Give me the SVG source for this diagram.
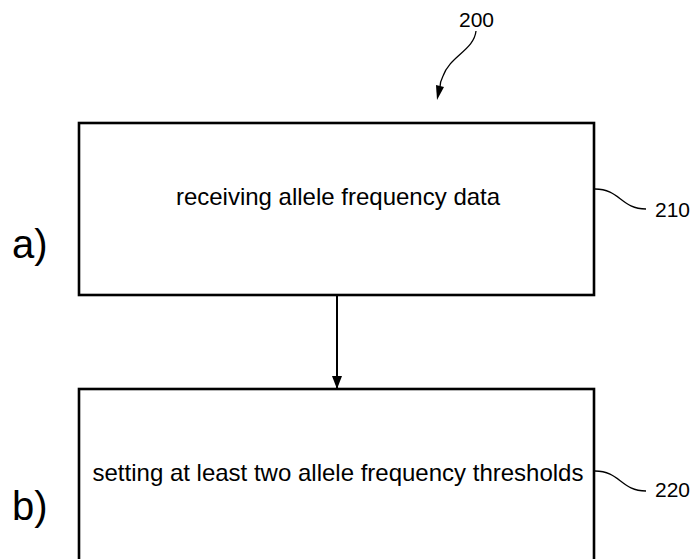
<svg xmlns="http://www.w3.org/2000/svg" width="693" height="559" viewBox="0 0 693 559">
  <style>
    .box { fill: #fff; stroke: #000; stroke-width: 2.6; }
    .lead { fill: none; stroke: #000; stroke-width: 1.3; }
    .lbl { font-family: "Liberation Sans", Arial, sans-serif; fill: #000; }
    .step { font-size: 24px; text-anchor: middle; }
    .ref { font-size: 21px; }
    .part { font-size: 40px; }
  </style>
  <defs>
    <marker id="arrow" markerWidth="13" markerHeight="10" refX="13" refY="5" orient="auto" markerUnits="userSpaceOnUse" viewBox="0 0 13 10">
      <path d="M0,0 L13,5 L0,10 Z" fill="#000"/>
    </marker>
  </defs>

  <!-- figure reference and its pointer -->
  <text class="lbl ref" x="459" y="27">200</text>
  <path class="lead" d="M476,31 C474,50 450,56 443,76 C441,80 440,84 440,87"/>
  <path d="M436,85 L444,87 L437,100 Z" fill="#000"/>

  <g id="node-210">
    <rect class="box" x="79" y="123" width="515" height="172"/>
    <text class="lbl step" x="338" y="205">receiving allele frequency data</text>
  </g>

  <g id="node-220">
    <rect class="box" x="79" y="389" width="515" height="190"/>
    <text class="lbl step" x="338" y="481">setting at least two allele frequency thresholds</text>
  </g>

  <g id="connectors">
    <line x1="337" y1="295" x2="337" y2="389" stroke="#000" stroke-width="2" marker-end="url(#arrow)"/>
    <path class="lead" d="M595,189 C620,189 621,209 646,209"/>
    <path class="lead" d="M595,471 C620,471 621,491 646,491"/>
  </g>

  <text class="lbl ref" x="655" y="217">210</text>
  <text class="lbl ref" x="655" y="497">220</text>
  <text class="lbl part" x="12" y="258">a)</text>
  <text class="lbl part" x="12" y="520">b)</text>
</svg>
